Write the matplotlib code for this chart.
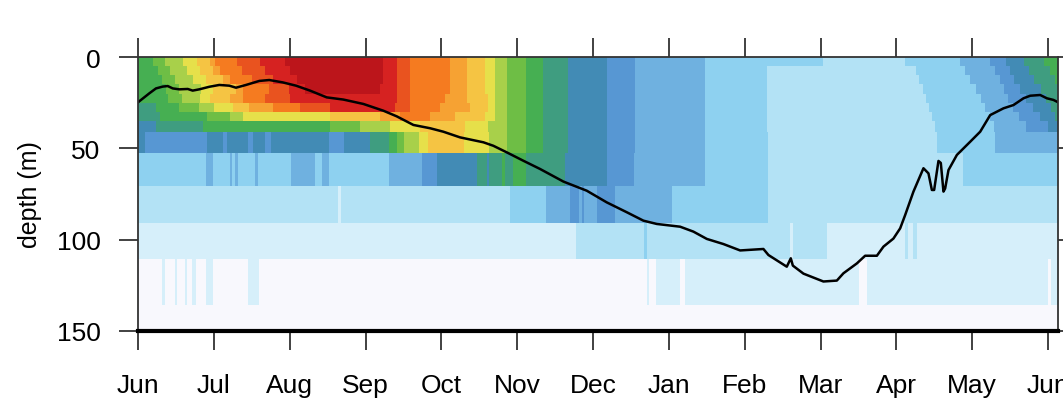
import numpy as np
import matplotlib.pyplot as plt
from matplotlib.colors import ListedColormap

plt.rcParams['font.family'] = ['Liberation Sans', 'DejaVu Sans']

month_labels = ['Jun', 'Jul', 'Aug', 'Sep', 'Oct', 'Nov', 'Dec',
                'Jan', 'Feb', 'Mar', 'Apr', 'May', 'Jun']
t_end = 12.13  # time axis in months since 1 Jun

# colour levels (white -> blue -> green -> yellow -> red)
level_colors = ['#F8F8FD', '#D6EFFA', '#B3E2F5', '#8ED1F0', '#6FB1E0', '#5797D3',
                '#428BB5', '#3F9D80', '#46AF52', '#6EBE45', '#A8D04A', '#E6E04A',
                '#F5C443', '#F6A233', '#F57B20', '#E9531F', '#D62221', '#BC151B']

depth_edges = [0, 5, 10, 15, 20, 25, 30, 35, 41, 52.6, 70.8, 91, 110.6, 135.6, 150]

# each layer: (start month, colour level) pairs
autumn = [(4.87, 9), (5.12, 8), (5.34, 7), (5.67, 6), (6.18, 5), (6.55, 4), (7.48, 3)]

layer_0_5 = [(0, 8), (0.20, 9), (0.36, 10), (0.59, 11), (0.78, 12), (0.95, 13), (1.02, 14),
             (1.31, 15), (1.61, 16), (1.94, 17), (3.23, 16), (3.42, 15), (3.59, 14), (4.11, 13),
             (4.34, 12), (4.58, 11), (4.71, 10)] + autumn + \
            [(9.03, 2), (10.11, 3), (10.84, 4), (11.24, 5), (11.45, 6), (11.68, 7), (11.95, 8)]
layer_5_10 = [(0, 8), (0.26, 9), (0.42, 10), (0.65, 11), (0.82, 12), (0.99, 13), (1.08, 14),
              (1.37, 15), (1.67, 16), (2.00, 17), (3.23, 16), (3.42, 15), (3.59, 14), (4.11, 13),
              (4.34, 12), (4.58, 11), (4.71, 10)] + autumn + \
             [(8.29, 2), (10.26, 3), (10.91, 4), (11.30, 5), (11.50, 6), (11.75, 7), (12.03, 8)]
layer_10_15 = [(0, 8), (0.32, 9), (0.49, 10), (0.73, 11), (0.90, 12), (1.12, 13), (1.21, 14),
               (1.50, 15), (1.78, 16), (2.10, 17), (3.23, 16), (3.42, 15), (3.59, 14), (4.11, 13),
               (4.34, 12), (4.58, 11), (4.71, 10)] + autumn + \
              [(8.29, 2), (10.30, 3), (10.97, 4), (11.37, 5), (11.55, 6), (11.82, 7), (12.09, 8)]
layer_15_20 = [(0, 8), (0.37, 9), (0.54, 10), (0.83, 11), (0.99, 12), (1.29, 13), (1.38, 14),
               (1.73, 15), (1.99, 16), (2.20, 17), (3.19, 16), (3.42, 15), (3.59, 14), (4.11, 13),
               (4.34, 12), (4.58, 11), (4.71, 10)] + autumn + \
              [(8.29, 2), (10.35, 3), (11.05, 4), (11.42, 5), (11.63, 6), (11.91, 7)]
layer_20_25 = [(0, 8), (0.40, 9), (0.58, 10), (0.82, 11), (0.95, 12), (1.21, 13), (1.38, 14),
               (1.67, 15), (2.00, 16), (3.42, 15), (3.59, 14), (4.05, 13), (4.34, 12),
               (4.61, 11), (4.71, 10)] + autumn + \
              [(8.29, 2), (10.39, 3), (11.12, 4), (11.47, 5), (11.71, 6), (11.97, 7)]
layer_25_30 = [(0, 7), (0.24, 8), (0.54, 9), (0.80, 10), (1.00, 11), (1.25, 12), (1.46, 13),
               (1.78, 14), (2.14, 15), (2.53, 16), (3.39, 15), (3.59, 14), (3.98, 13),
               (4.38, 12), (4.61, 11), (4.71, 10)] + autumn + \
              [(8.29, 2), (10.43, 3), (11.17, 4), (11.54, 5), (11.80, 6), (12.04, 7)]
layer_30_35 = [(0, 7), (0.29, 8), (0.91, 9), (1.21, 10), (1.38, 11), (2.53, 12), (3.19, 13),
               (3.46, 14), (3.85, 13), (4.18, 12), (4.58, 11), (4.71, 10)] + autumn + \
              [(8.29, 2), (10.47, 3), (11.24, 4), (11.61, 5), (11.89, 6), (12.09, 7)]
layer_35_41 = [(0, 6), (0.24, 7), (0.86, 8), (2.53, 9), (2.93, 10), (3.32, 11), (3.72, 12),
               (4.31, 11), (4.62, 10)] + autumn + \
              [(8.29, 2), (10.51, 3), (11.28, 4), (11.71, 5), (12.00, 6)]
layer_41_53 = [(0, 6), (0.09, 5), (0.91, 6), (1.12, 5), (1.18, 6), (1.45, 5), (1.51, 6),
               (1.67, 5), (1.76, 6), (2.52, 5), (2.71, 6), (3.06, 7), (3.31, 8), (3.42, 9),
               (3.51, 10), (3.71, 11), (3.82, 12), (4.30, 11), (4.63, 10), (4.86, 9), (5.12, 8),
               (5.34, 7), (5.67, 6), (6.18, 5), (6.55, 4), (7.48, 3), (8.30, 2), (10.53, 3),
               (11.30, 4)]
layer_53_71 = [(0, 3), (0.90, 4), (0.99, 3), (1.21, 4), (1.24, 3), (1.28, 4), (1.32, 3),
               (1.54, 4), (1.58, 3), (2.02, 4), (2.33, 3), (2.42, 4), (2.52, 3), (3.31, 4),
               (3.75, 5), (3.94, 6), (4.47, 7), (4.60, 6), (4.63, 7), (4.80, 8), (4.84, 7),
               (4.95, 8), (5.12, 7), (5.63, 6), (6.18, 5), (6.54, 4), (7.48, 3), (8.30, 2),
               (10.88, 3)]
layer_71_91 = [(0, 2), (2.64, 1), (2.68, 2), (4.91, 3), (5.38, 4), (5.70, 5), (5.82, 4),
               (5.85, 5), (5.88, 4), (6.05, 5), (6.29, 4), (7.04, 3), (8.31, 2)]
layer_91_111 = [(0, 1), (5.78, 2), (6.67, 3), (6.71, 2), (8.60, 1), (8.63, 2), (9.09, 1),
                (10.11, 2), (10.15, 1), (10.22, 2), (10.27, 1)]
layer_111_136 = [(0, 0), (0.31, 1), (0.36, 0), (0.49, 1), (0.52, 0), (0.62, 1), (0.65, 0),
                 (0.71, 1), (0.77, 0), (0.90, 1), (0.99, 0), (1.45, 1), (1.59, 0), (6.71, 1),
                 (6.74, 0), (6.83, 1), (7.14, 0), (7.21, 1), (9.50, 0), (9.61, 1), (12.00, 0),
                 (12.04, 1)]
layer_136_150 = [(0, 0)]

# mixed layer depth line
mld_month = [0.000, 0.149, 0.237, 0.326, 0.392, 0.458, 0.545, 0.656, 0.721, 0.808, 0.940,
             1.072, 1.204, 1.292, 1.424, 1.600, 1.731, 1.908, 2.084, 2.268, 2.488, 2.707,
             2.971, 3.235, 3.412, 3.631, 3.851, 4.026, 4.246, 4.554, 4.685, 4.862, 5.081,
             5.301, 5.609, 5.917, 6.181, 6.445, 6.664, 6.840, 7.148, 7.323, 7.500, 7.719,
             7.939, 8.246, 8.312, 8.554, 8.607, 8.634, 8.774, 9.037, 9.214, 9.301, 9.478,
             9.587, 9.742, 9.829, 9.960, 10.049, 10.115, 10.224, 10.356, 10.422, 10.467,
             10.497, 10.554, 10.585, 10.620, 10.642, 10.686, 10.797, 10.972, 11.104, 11.236,
             11.411, 11.543, 11.675, 11.764, 11.895, 11.983, 12.070, 12.132]
mld_depth = [24.8, 19.9, 17.2, 16.2, 15.9, 17.2, 17.7, 17.5, 18.4, 17.7, 16.3,
             15.3, 15.7, 16.8, 15.3, 13.1, 12.6, 13.9, 15.7, 18.4, 22.1, 23.3,
             25.7, 29.4, 32.5, 37.2, 39.0, 40.9, 44.0, 46.7, 48.6, 52.2, 56.8,
             61.3, 68.2, 73.2, 79.6, 85.0, 89.6, 91.4, 92.9, 95.6, 99.6, 102.4,
             105.9, 105.1, 108.4, 114.8, 110.2, 114.2, 118.6, 122.9, 122.4, 118.4, 113.0,
             108.8, 108.8, 103.8, 99.4, 93.8, 86.5, 73.7, 60.9, 63.7, 72.8,
             72.8, 56.9, 58.0, 73.7, 72.0, 61.9, 53.6, 46.4, 40.9, 31.8,
             28.1, 26.3, 22.6, 21.2, 20.8, 22.6, 23.5, 24.8]

layers = [layer_0_5, layer_5_10, layer_10_15, layer_15_20, layer_20_25, layer_25_30,
          layer_30_35, layer_35_41, layer_41_53, layer_53_71, layer_71_91, layer_91_111,
          layer_111_136, layer_136_150]

t_edges = np.array(sorted(set([0.0, t_end] + [t for lay in layers for t, _ in lay])))
t_mid = 0.5 * (t_edges[:-1] + t_edges[1:])
field = np.zeros((len(layers), len(t_mid)))
for i, lay in enumerate(layers):
    starts = np.array([t for t, _ in lay])
    levs = np.array([l for _, l in lay])
    field[i] = levs[np.searchsorted(starts, t_mid, side='right') - 1]

fig = plt.figure(figsize=(10.63, 4.02), dpi=100)
ax = fig.add_axes([138 / 1063, 1 - 332 / 402, 920 / 1063, 274 / 402])

cmap = ListedColormap(level_colors)
ax.pcolormesh(t_edges, depth_edges, field, cmap=cmap, vmin=-0.5,
              vmax=len(level_colors) - 0.5, shading='flat', antialiased=False)
ax.plot(mld_month, mld_depth, color='black', lw=1.8)

ax.set_xlim(0, t_end)
ax.set_ylim(150, 0)
ax.set_xticks(range(13))
ax.set_xticklabels(month_labels)
ax.set_yticks([0, 50, 100, 150])
ax.tick_params(direction='out', length=14, width=1.3, color='#333333',
               top=True, right=True, labelsize=19)
ax.tick_params(axis='x', pad=16)
ax.tick_params(axis='y', pad=13)
for s in ['top', 'left', 'right']:
    ax.spines[s].set_linewidth(1.3)
    ax.spines[s].set_color('#333333')
ax.spines['bottom'].set_linewidth(3)
ax.spines['bottom'].set_color('black')

ax.set_ylabel('depth (m)', fontsize=18)
ax.yaxis.set_label_coords(-0.104, 0.5)

fig.savefig('out.png', dpi=100)
